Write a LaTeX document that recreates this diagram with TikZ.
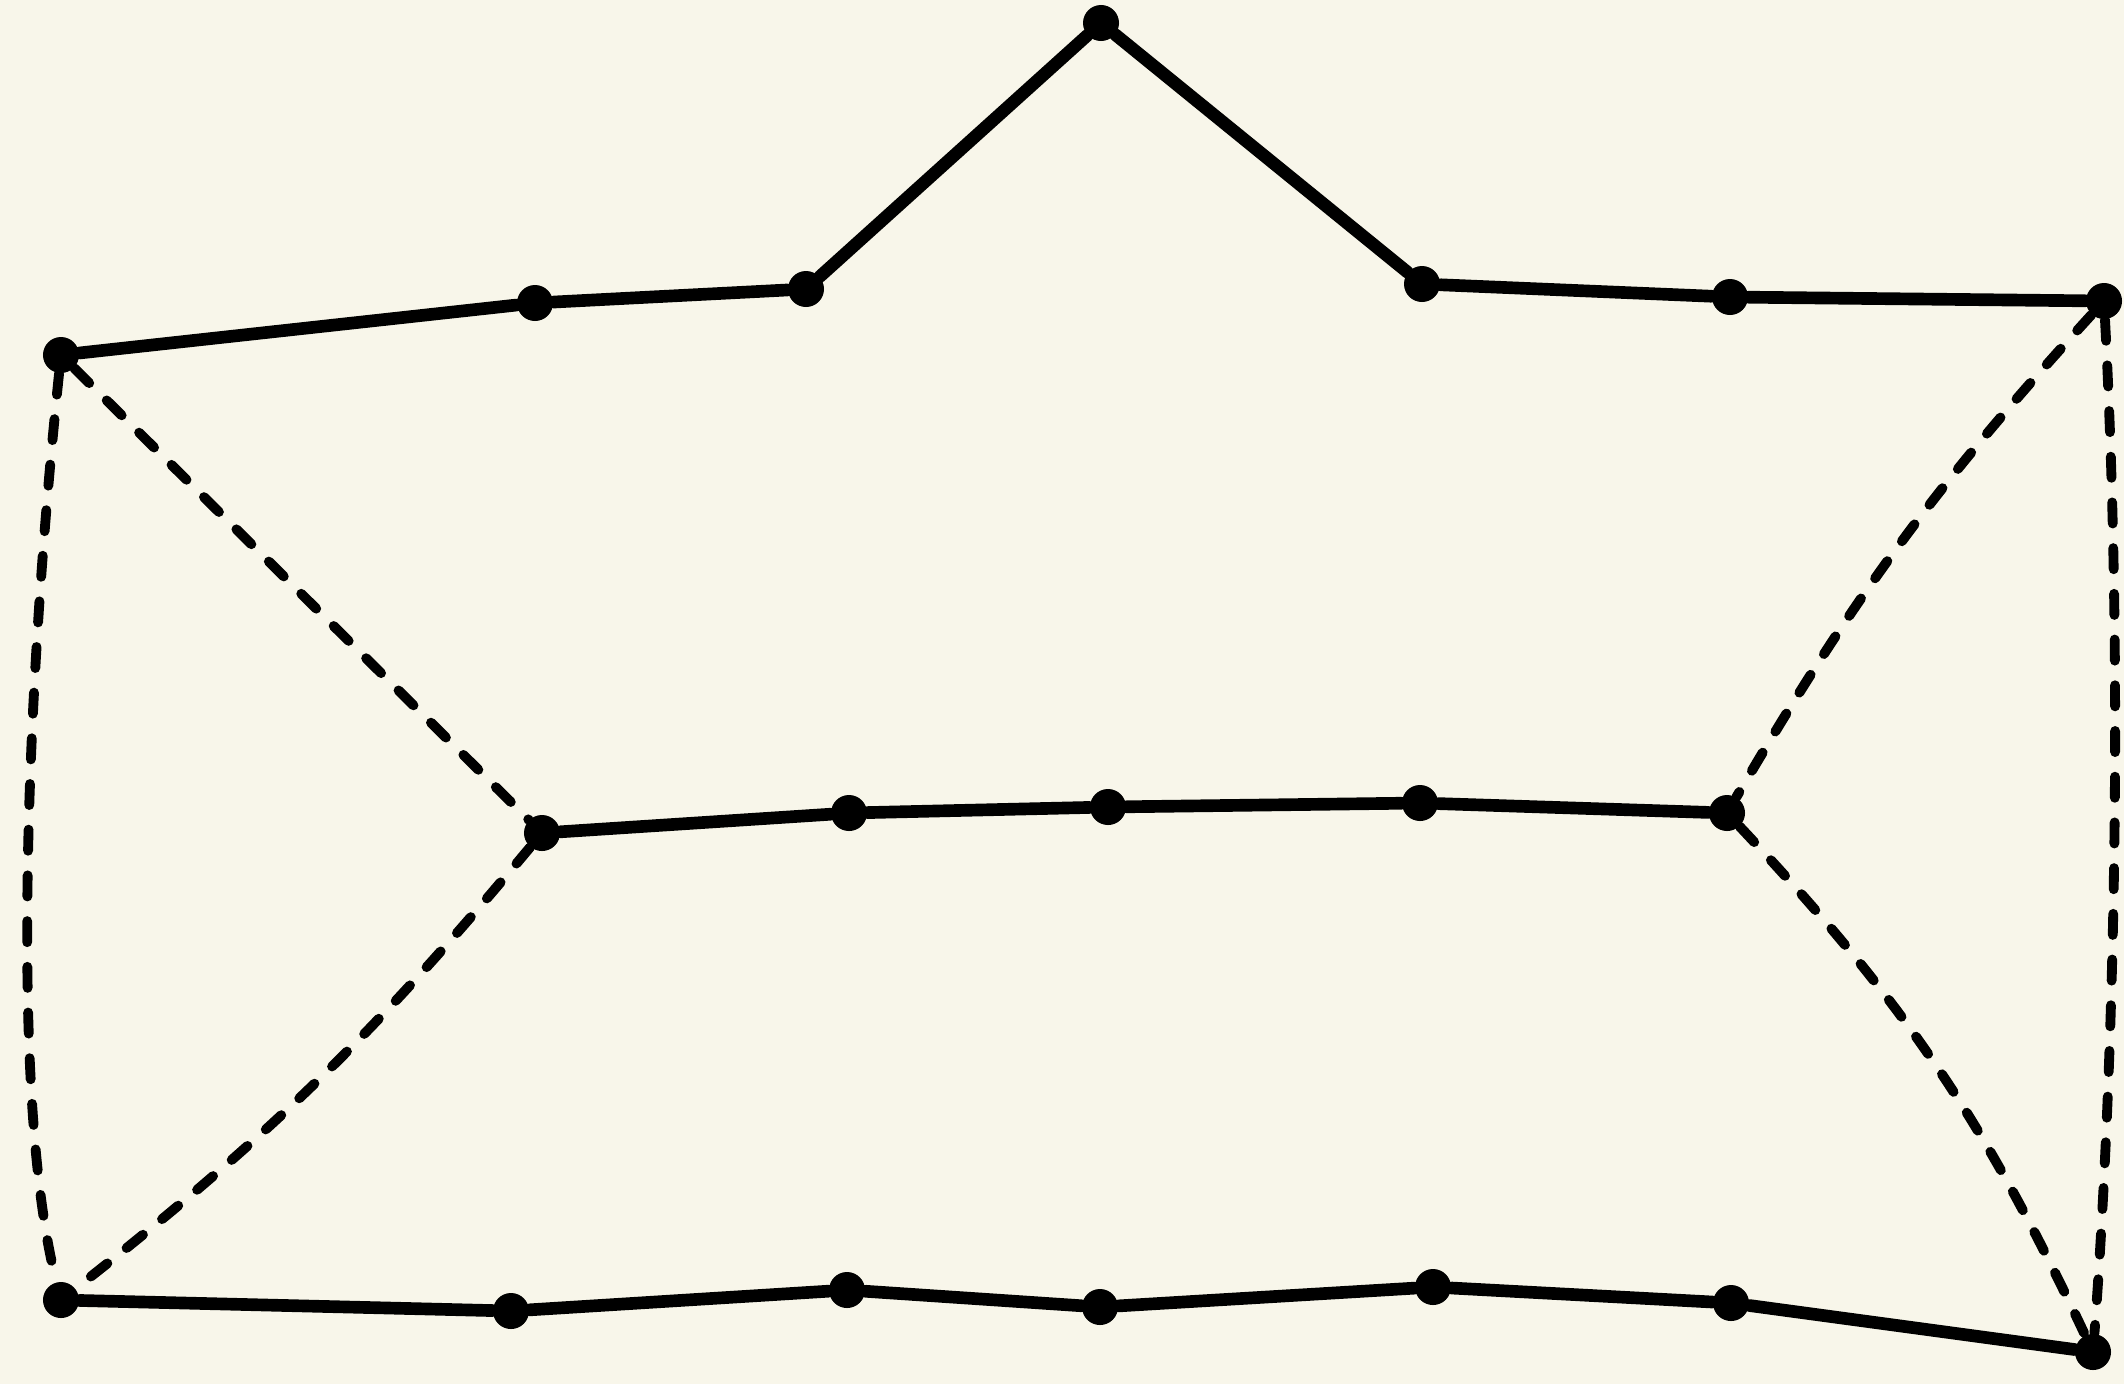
\documentclass[tikz,border=0pt]{standalone}
\definecolor{paper}{RGB}{248,246,234}
\begin{document}
\begin{tikzpicture}[x=0.01cm, y=-0.01cm,
	dot/.style={circle, fill=black, inner sep=0pt, minimum size=0.36cm},
	solidedge/.style={black, line width=3.6pt, line cap=round},
	dashededge/.style={black, line width=2.8pt, line cap=round, dash pattern=on 6pt off 7pt}]
	% Paper
	\fill[paper] (0,0) rectangle (2124,1384);
	\useasboundingbox (0,0) rectangle (2124,1384);

	% Top peak
	\node[dot] (top) at (1101,23) {};

	% Top row
	\node[dot] (a1) at (61,355) {};
	\node[dot] (a2) at (535,303) {};
	\node[dot] (a3) at (806,289) {};
	\node[dot] (a4) at (1422,284) {};
	\node[dot] (a5) at (1730,297) {};
	\node[dot] (a6) at (2104,301) {};

	% Middle row
	\node[dot] (m1) at (542,833) {};
	\node[dot] (m2) at (849,813) {};
	\node[dot] (m3) at (1108,807) {};
	\node[dot] (m4) at (1420,803) {};
	\node[dot] (m5) at (1727,813) {};

	% Bottom row
	\node[dot] (b1) at (61,1300) {};
	\node[dot] (b2) at (511,1311) {};
	\node[dot] (b3) at (847,1290) {};
	\node[dot] (b4) at (1100,1307) {};
	\node[dot] (b5) at (1433,1287) {};
	\node[dot] (b6) at (1731,1303) {};
	\node[dot] (b7) at (2093,1352) {};

	% Solid paths
	\draw[solidedge] (a1) -- (a2) -- (a3) -- (top) -- (a4) -- (a5) -- (a6);
	\draw[solidedge] (m1) -- (m2) -- (m3) -- (m4) -- (m5);
	\draw[solidedge] (b1) -- (b2) -- (b3) -- (b4) -- (b5) -- (b6) -- (b7);

	% Dashed edges
	\draw[dashededge] (a1) .. controls (25,700) and (10,1100) .. (b1);
	\draw[dashededge] (a6) .. controls (2125,700) and (2112,1100) .. (b7);
	\draw[dashededge] (a1) -- (m1);
	\draw[dashededge] (m1) to[bend left=6] (b1);
	\draw[dashededge] (a6) to[bend right=6] (m5);
	\draw[dashededge] (m5) to[bend left=9] (b7);
\end{tikzpicture}
\end{document}
